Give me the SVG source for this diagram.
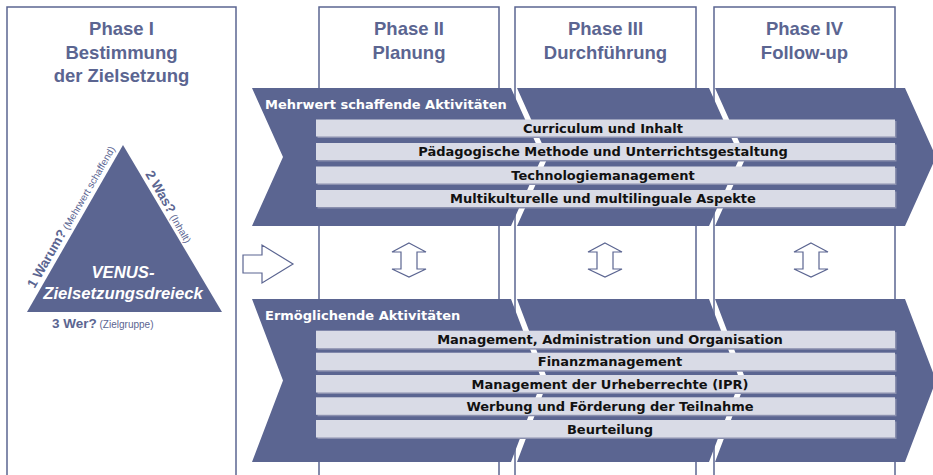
<svg xmlns="http://www.w3.org/2000/svg" width="933" height="475" viewBox="0 0 933 475">
<style>
.box{fill:#fff;stroke:#5b6591;stroke-width:1.5}
.title{font-family:"Liberation Sans",Arial,sans-serif;font-weight:bold;font-size:18.5px;fill:#5b6591;text-anchor:middle}
.chev{fill:#5b6591}
.bar{fill:#d9dbe6}
.shadow{fill:#8a8fae}
.bt{font-family:"DejaVu Sans",sans-serif;font-weight:bold;font-size:13px;fill:#111;text-anchor:middle}
.ct{font-family:"DejaVu Sans",sans-serif;font-weight:bold;font-size:13px;fill:#fff}
.arr{fill:#fff;stroke:#5b6591;stroke-width:1.2;stroke-linejoin:miter}
.lab{font-family:"Liberation Sans",Arial,sans-serif;fill:#5b6591}
</style>
<rect width="933" height="475" fill="#fff"/>
<g id="phase1">
<rect class="box" x="7" y="7" width="229" height="480"/>
<text class="title" x="121.5" y="35">Phase I</text>
<text class="title" x="121.5" y="59">Bestimmung</text>
<text class="title" x="121.5" y="82">der Zielsetzung</text>
</g>
<g id="phase2">
<rect class="box" x="319" y="7" width="180" height="480"/>
<text class="title" x="409" y="35">Phase II</text>
<text class="title" x="409" y="59">Planung</text>
</g>
<g id="phase3">
<rect class="box" x="515" y="7" width="181" height="480"/>
<text class="title" x="605.5" y="35">Phase III</text>
<text class="title" x="605.5" y="59">Durchführung</text>
</g>
<g id="phase4">
<rect class="box" x="714" y="7" width="181" height="480"/>
<text class="title" x="804.5" y="35">Phase IV</text>
<text class="title" x="804.5" y="59">Follow-up</text>
</g>
<g id="triangle">
<polygon points="123,145 222,312 27,312" fill="#5b6591"/>
<text x="123" y="278" text-anchor="middle" font-family="'Liberation Sans',Arial,sans-serif" font-weight="bold" font-style="italic" font-size="16.7" fill="#fff">VENUS-</text>
<text x="123" y="298.5" text-anchor="middle" font-family="'Liberation Sans',Arial,sans-serif" font-weight="bold" font-style="italic" font-size="16.7" fill="#fff">Zielsetzungsdreieck</text>
<text class="lab" transform="translate(34.5,289) rotate(-60)"><tspan font-weight="bold" font-size="13.5">1 Warum?</tspan><tspan font-size="10"> (Mehrwert schaffend)</tspan></text>
<text class="lab" transform="translate(145,174) rotate(60)"><tspan font-weight="bold" font-size="13.5">2 Was?</tspan><tspan font-size="10"> (Inhalt)</tspan></text>
<text class="lab" x="52" y="328"><tspan font-weight="bold" font-size="13.5">3 Wer?</tspan><tspan font-size="10"> (Zielgruppe)</tspan></text>
</g>
<g id="value-chevron">
<polygon class="chev" points="252,88 511,88 542,157 511,226 252,226 283,157"/>
<polygon class="chev" points="517,88 709,88 740,157 709,226 517,226 548,157"/>
<polygon class="chev" points="715,88 905,88 936,157 905,226 715,226 746,157"/>
<text class="ct" x="265" y="109">Mehrwert schaffende Aktivitäten</text>
<rect class="shadow" x="317.5" y="121" width="579" height="17"/>
<rect class="bar" x="316" y="119.5" width="579" height="17"/>
<text class="bt" x="603" y="132.7">Curriculum und Inhalt</text>
<rect class="shadow" x="317.5" y="144.5" width="579" height="17"/>
<rect class="bar" x="316" y="143" width="579" height="17"/>
<text class="bt" x="603" y="156.2">Pädagogische Methode und Unterrichtsgestaltung</text>
<rect class="shadow" x="317.5" y="168" width="579" height="17"/>
<rect class="bar" x="316" y="166.5" width="579" height="17"/>
<text class="bt" x="603" y="179.7">Technologiemanagement</text>
<rect class="shadow" x="317.5" y="191.5" width="579" height="17"/>
<rect class="bar" x="316" y="190" width="579" height="17"/>
<text class="bt" x="603" y="203.2">Multikulturelle und multilinguale Aspekte</text>
</g>
<g id="enabling-chevron">
<polygon class="chev" points="252,299 511,299 542,380.5 511,462 252,462 283,380.5"/>
<polygon class="chev" points="517,299 709,299 740,380.5 709,462 517,462 548,380.5"/>
<polygon class="chev" points="715,299 905,299 936,380.5 905,462 715,462 746,380.5"/>
<text class="ct" x="265" y="320">Ermöglichende Aktivitäten</text>
<rect class="shadow" x="317.5" y="332.2" width="579" height="17.5"/>
<rect class="bar" x="316" y="330.7" width="579" height="17.5"/>
<text class="bt" x="610" y="344.2">Management, Administration und Organisation</text>
<rect class="shadow" x="317.5" y="354.2" width="579" height="17.5"/>
<rect class="bar" x="316" y="352.7" width="579" height="17.5"/>
<text class="bt" x="610" y="366.2">Finanzmanagement</text>
<rect class="shadow" x="317.5" y="376.5" width="579" height="17.5"/>
<rect class="bar" x="316" y="375" width="579" height="17.5"/>
<text class="bt" x="610" y="388.5">Management der Urheberrechte (IPR)</text>
<rect class="shadow" x="317.5" y="398.8" width="579" height="17.5"/>
<rect class="bar" x="316" y="397.3" width="579" height="17.5"/>
<text class="bt" x="610" y="410.7">Werbung und Förderung der Teilnahme</text>
<rect class="shadow" x="317.5" y="421.5" width="579" height="17.5"/>
<rect class="bar" x="316" y="420" width="579" height="17.5"/>
<text class="bt" x="610" y="433.5">Beurteilung</text>
</g>
<g id="connectors">
<polygon class="arr" points="243,255 262,255 262,245 293,264 262,283 262,273 243,273"/>
<polygon class="arr" points="409,243 426,252 417,252 417,269 426,269 409,277 392,269 401,269 401,252 392,252"/>
<polygon class="arr" points="605,243 622,252 613,252 613,269 622,269 605,277 588,269 597,269 597,252 588,252"/>
<polygon class="arr" points="811,243 828,252 819,252 819,269 828,269 811,277 794,269 803,269 803,252 794,252"/>
</g>
</svg>
